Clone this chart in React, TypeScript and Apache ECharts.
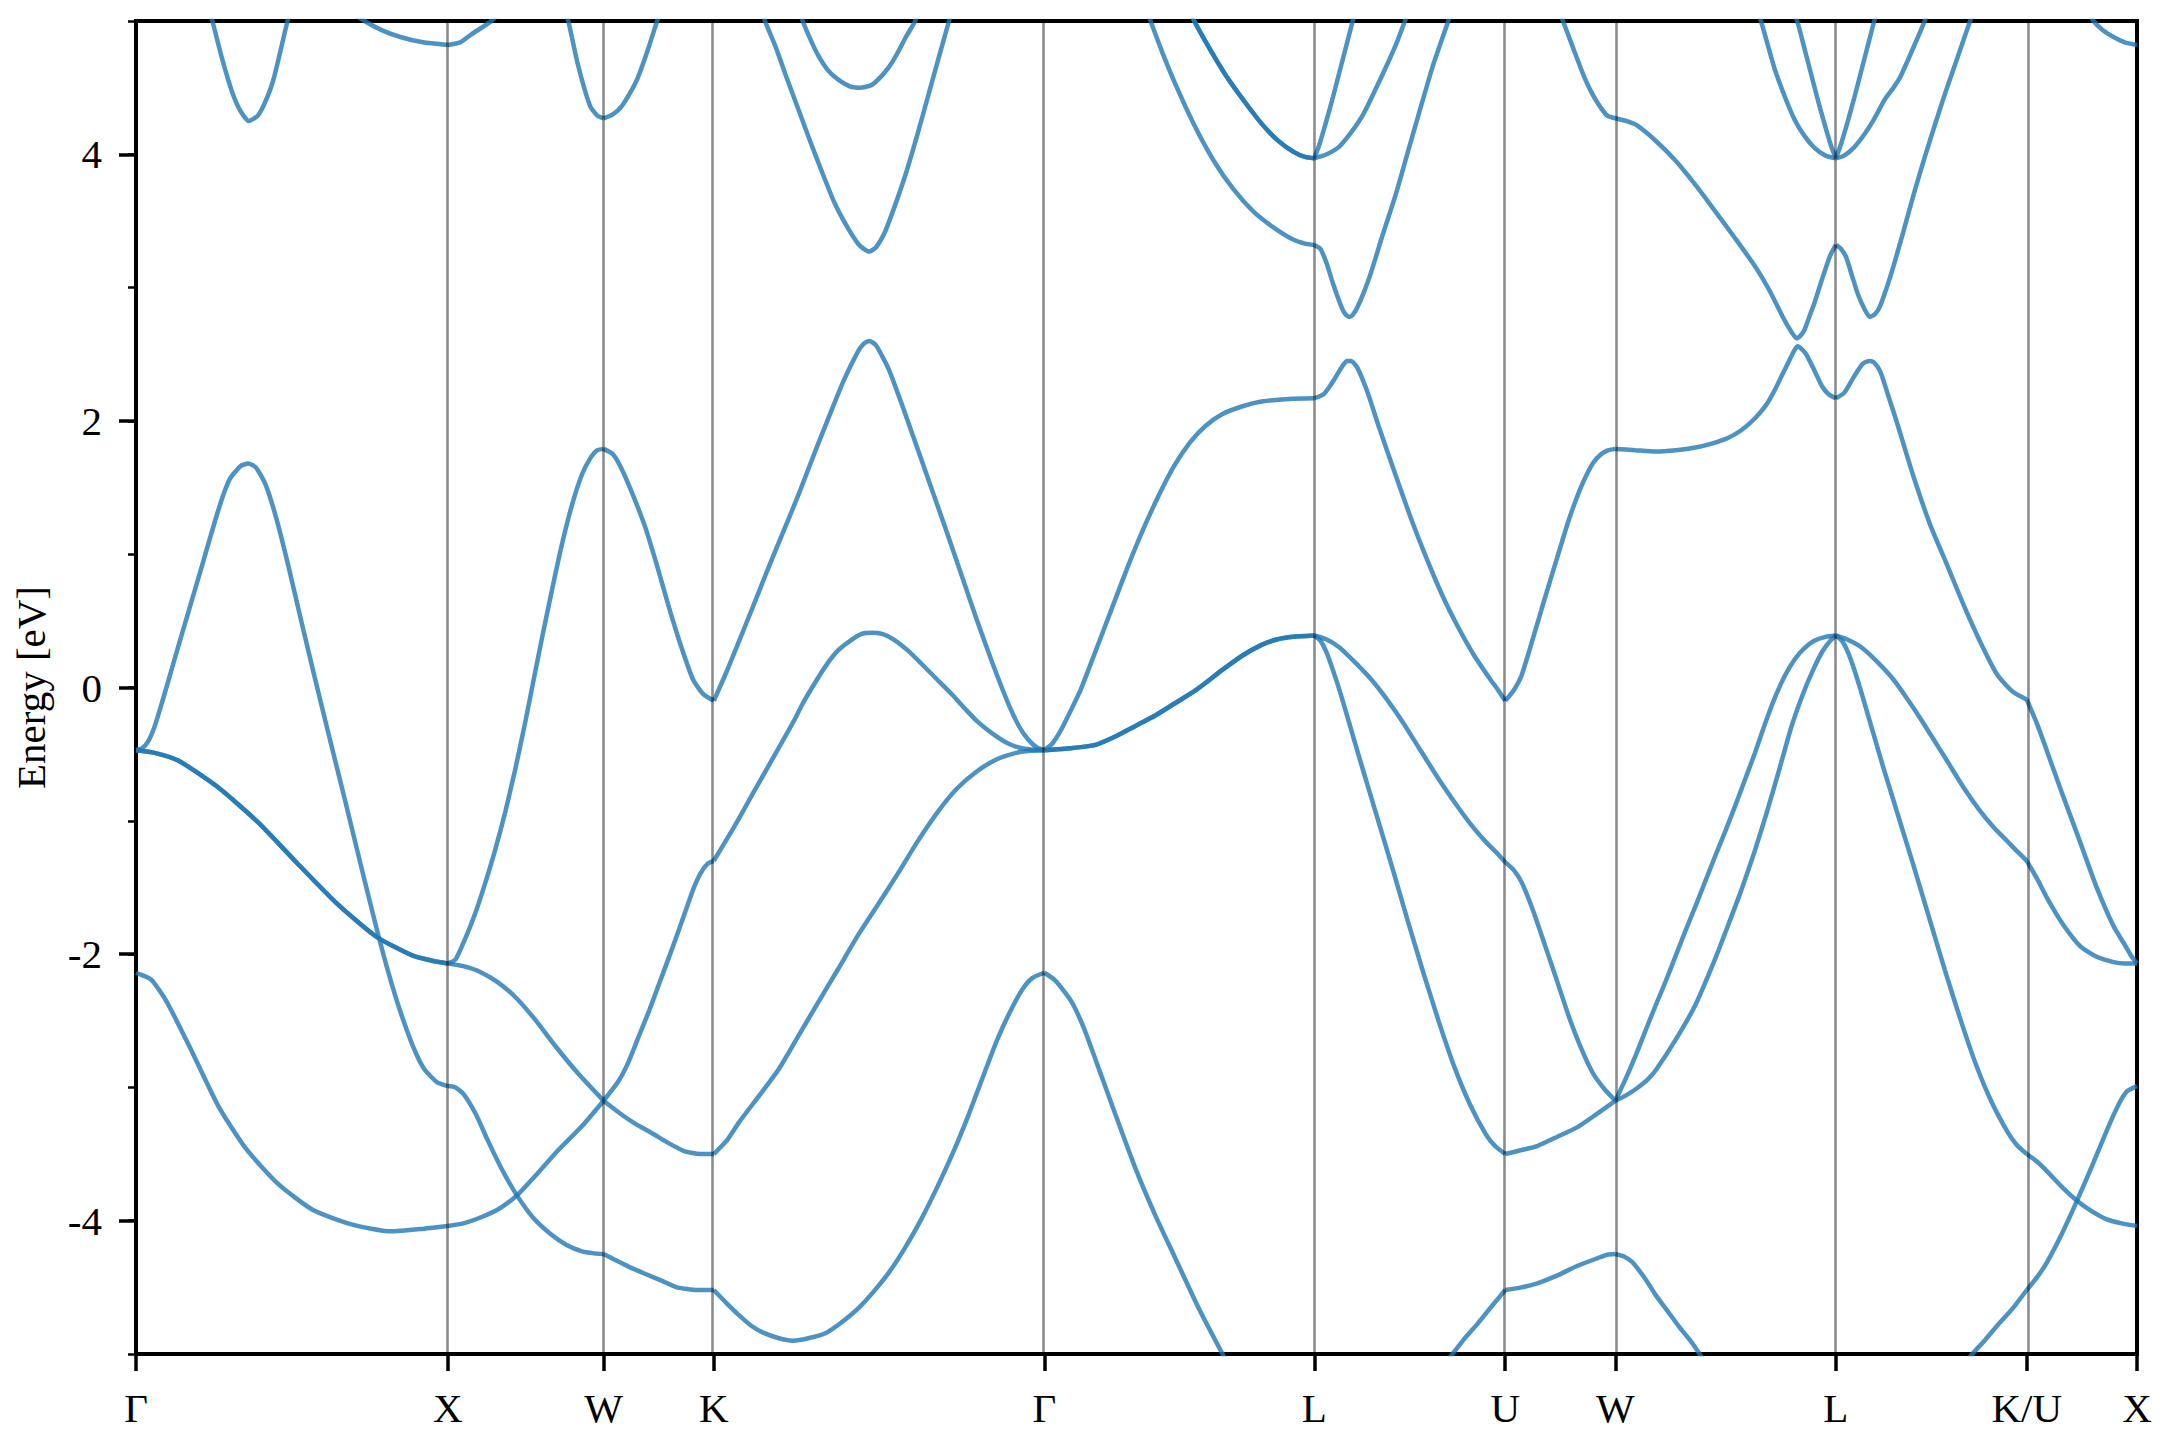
import React, { useEffect, useRef } from 'react';
import * as echarts from 'echarts';

// High-symmetry k positions (path length, units of 2π/a) and labels
const kTicks = [0, 1, 1.5, 1.8536, 2.9142, 3.7802, 4.3926, 4.7462, 5.4533, 6.0657, 6.4194];
const kLabels = ['Γ', 'X', 'W', 'K', 'Γ', 'L', 'U', 'W', 'L', 'K/U', 'X'];
const yMajor = [-4, -2, 0, 2, 4];

// Γ – X
const gx1 = [[0,-2.14],[0.048,-2.19],[0.099,-2.36],[0.175,-2.71],[0.264,-3.14],[0.353,-3.46],[0.454,-3.72],[0.568,-3.92],[0.695,-4.03],[0.816,-4.08],[0.924,-4.06],[1,-4.04]];
const gxDeg = [[0,-0.47],[0.06,-0.49],[0.137,-0.55],[0.264,-0.75],[0.391,-1.01],[0.518,-1.32],[0.644,-1.62],[0.771,-1.87],[0.886,-2.01],[0.95,-2.05],[1,-2.07]];
const gx3 = [[0,-0.47],[0.02,-0.455],[0.04,-0.4],[0.06,-0.29],[0.08,-0.14],[0.1,0.02],[0.137,0.32],[0.2,0.82],[0.264,1.33],[0.3,1.56],[0.335,1.66],[0.36,1.68],[0.385,1.65],[0.416,1.52],[0.45,1.27],[0.49,0.9],[0.53,0.5],[0.574,0.07],[0.62,-0.37],[0.67,-0.84],[0.72,-1.32],[0.771,-1.8],[0.81,-2.14],[0.848,-2.43],[0.89,-2.7],[0.924,-2.86],[0.965,-2.96],[1,-2.99]];
const gx4 = [[0.225,5.15],[0.245,5.0],[0.277,4.71],[0.308,4.47],[0.334,4.33],[0.362,4.25],[0.391,4.29],[0.416,4.4],[0.442,4.57],[0.486,5.0],[0.5,5.12]];
const gx5 = [[0.6,5.2],[0.733,5.0],[0.79,4.93],[0.848,4.88],[0.92,4.84],[1,4.82]];

// X – W
const xw1 = [[1,-4.04],[1.05,-4.02],[1.101,-3.98],[1.165,-3.91],[1.222,-3.81],[1.29,-3.64],[1.355,-3.47],[1.431,-3.29],[1.5,-3.1]];
const xw2 = [[1,-2.99],[1.025,-3.0],[1.051,-3.05],[1.09,-3.2],[1.127,-3.39],[1.175,-3.62],[1.222,-3.81],[1.275,-3.98],[1.33,-4.1],[1.38,-4.18],[1.431,-4.23],[1.47,-4.245],[1.5,-4.25]];
const xw3 = [[1,-2.07],[1.05,-2.09],[1.101,-2.13],[1.16,-2.21],[1.216,-2.32],[1.28,-2.49],[1.342,-2.68],[1.42,-2.9],[1.5,-3.1]];
const xw4 = [[1,-2.07],[1.025,-2.04],[1.057,-1.88],[1.089,-1.69],[1.12,-1.47],[1.152,-1.22],[1.185,-0.93],[1.216,-0.62],[1.247,-0.28],[1.275,0.05],[1.305,0.4],[1.337,0.76],[1.368,1.09],[1.4,1.38],[1.431,1.6],[1.46,1.73],[1.48,1.78],[1.5,1.79]];
const xw5 = [[1,4.82],[1.04,4.84],[1.076,4.9],[1.14,5.0],[1.2,5.15]];
const xw6 = [[1.37,5.15],[1.387,5.0],[1.418,4.67],[1.457,4.36],[1.48,4.29],[1.5,4.27]];

// W – K
const wk1 = [[1.5,1.79],[1.53,1.75],[1.558,1.64],[1.595,1.44],[1.634,1.2],[1.672,0.91],[1.71,0.6],[1.75,0.3],[1.787,0.06],[1.82,-0.05],[1.8536,-0.1]];
const wk2 = [[1.5,-3.1],[1.55,-3.19],[1.6,-3.27],[1.66,-3.35],[1.71,-3.42],[1.761,-3.48],[1.81,-3.5],[1.8536,-3.5]];
const wk3 = [[1.5,-3.1],[1.546,-2.96],[1.578,-2.82],[1.609,-2.64],[1.647,-2.42],[1.685,-2.18],[1.723,-1.94],[1.761,-1.69],[1.79,-1.5],[1.812,-1.39],[1.835,-1.32],[1.8536,-1.3]];
const wk4 = [[1.5,-4.25],[1.533,-4.29],[1.585,-4.35],[1.635,-4.4],[1.686,-4.45],[1.736,-4.5],[1.8,-4.52],[1.8536,-4.52]];
const wk5 = [[1.5,4.27],[1.53,4.3],[1.558,4.36],[1.585,4.46],[1.609,4.57],[1.64,4.77],[1.672,5.0],[1.69,5.12]];

// K – Γ
const kg1 = [[1.8536,-0.1],[1.895,0.12],[1.935,0.35],[1.98,0.61],[2.024,0.87],[2.075,1.16],[2.126,1.45],[2.177,1.76],[2.228,2.06],[2.27,2.3],[2.316,2.52],[2.335,2.58],[2.352,2.6],[2.373,2.57],[2.395,2.48],[2.418,2.37],[2.456,2.13],[2.494,1.88],[2.545,1.54],[2.596,1.2],[2.646,0.86],[2.697,0.51],[2.748,0.18],[2.8,-0.13],[2.835,-0.3],[2.862,-0.39],[2.89,-0.45],[2.9142,-0.47]];
const kg2 = [[1.8536,-1.3],[1.895,-1.14],[1.935,-0.98],[1.98,-0.79],[2.024,-0.61],[2.07,-0.42],[2.113,-0.24],[2.139,-0.12],[2.177,0.03],[2.215,0.17],[2.253,0.28],[2.291,0.35],[2.326,0.4],[2.361,0.41],[2.396,0.4],[2.431,0.36],[2.475,0.28],[2.519,0.18],[2.57,0.06],[2.621,-0.06],[2.66,-0.16],[2.697,-0.25],[2.75,-0.35],[2.798,-0.42],[2.85,-0.46],[2.9142,-0.47]];
const kg3 = [[1.8536,-3.5],[1.895,-3.4],[1.935,-3.26],[2.0,-3.06],[2.063,-2.86],[2.126,-2.61],[2.189,-2.36],[2.253,-2.11],[2.316,-1.86],[2.38,-1.63],[2.443,-1.4],[2.506,-1.16],[2.57,-0.94],[2.633,-0.76],[2.697,-0.63],[2.76,-0.54],[2.824,-0.49],[2.87,-0.475],[2.9142,-0.47]];
const kg4 = [[1.8536,-4.52],[1.895,-4.62],[1.935,-4.71],[1.975,-4.79],[2.012,-4.84],[2.06,-4.88],[2.107,-4.9],[2.16,-4.88],[2.215,-4.84],[2.265,-4.76],[2.316,-4.66],[2.367,-4.53],[2.418,-4.38],[2.468,-4.2],[2.519,-3.99],[2.57,-3.75],[2.621,-3.49],[2.672,-3.2],[2.722,-2.89],[2.765,-2.63],[2.811,-2.4],[2.845,-2.26],[2.875,-2.18],[2.9142,-2.14]];
const kg5 = [[2.0,5.15],[2.018,5.0],[2.053,4.8],[2.088,4.57],[2.126,4.33],[2.164,4.09],[2.202,3.86],[2.24,3.64],[2.278,3.47],[2.316,3.33],[2.335,3.29],[2.352,3.27],[2.373,3.3],[2.39,3.36],[2.405,3.43],[2.437,3.63],[2.469,3.85],[2.507,4.15],[2.545,4.47],[2.577,4.74],[2.608,5.0],[2.62,5.12]];
const kg6 = [[2.125,5.1],[2.139,5.0],[2.164,4.86],[2.189,4.74],[2.22,4.63],[2.253,4.56],[2.29,4.51],[2.323,4.5],[2.36,4.52],[2.393,4.59],[2.42,4.67],[2.443,4.76],[2.47,4.88],[2.5,5.0],[2.51,5.06]];

// Γ – L
const gl1 = [[2.9142,-0.47],[2.94,-0.42],[2.965,-0.33],[2.989,-0.22],[3.03,-0.02],[3.078,0.27],[3.13,0.59],[3.179,0.89],[3.23,1.18],[3.281,1.44],[3.33,1.66],[3.382,1.84],[3.43,1.96],[3.484,2.05],[3.55,2.11],[3.611,2.145],[3.7,2.165],[3.7802,2.17]];
const glDeg = [[2.9142,-0.47],[2.98,-0.46],[3.078,-0.43],[3.14,-0.37],[3.205,-0.29],[3.27,-0.21],[3.332,-0.12],[3.4,-0.02],[3.484,0.13],[3.55,0.24],[3.611,0.32],[3.66,0.36],[3.712,0.38],[3.7802,0.39]];
const gl3 = [[2.9142,-2.14],[2.95,-2.2],[3.002,-2.36],[3.04,-2.55],[3.078,-2.79],[3.14,-3.19],[3.205,-3.6],[3.27,-3.96],[3.332,-4.27],[3.41,-4.66],[3.49,-5.02],[3.55,-5.3]];
const gl4 = [[3.24,5.1],[3.255,5.0],[3.29,4.78],[3.332,4.54],[3.395,4.22],[3.458,3.95],[3.52,3.74],[3.585,3.57],[3.65,3.45],[3.712,3.36],[3.75,3.33],[3.7802,3.32]];
const glDegTop = [[3.38,5.1],[3.395,5.0],[3.45,4.77],[3.497,4.59],[3.555,4.4],[3.611,4.23],[3.66,4.11],[3.712,4.02],[3.75,3.98],[3.7802,3.97]];

// L – U
const lu1 = [[3.7802,3.97],[3.79,4.03],[3.8,4.1],[3.82,4.26],[3.84,4.43],[3.86,4.61],[3.88,4.79],[3.9,4.97],[3.915,5.1]];
const lu2 = [[3.7802,3.97],[3.82,4.0],[3.861,4.06],[3.9,4.17],[3.937,4.3],[3.975,4.48],[4.013,4.67],[4.045,4.84],[4.071,5.0],[4.09,5.1]];
const lu3 = [[3.7802,3.32],[3.8,3.29],[3.82,3.18],[3.836,3.06],[3.852,2.95],[3.868,2.85],[3.88,2.8],[3.893,2.78],[3.905,2.8],[3.918,2.85],[3.94,2.97],[3.963,3.12],[4.0,3.4],[4.039,3.68],[4.077,3.99],[4.115,4.3],[4.16,4.66],[4.21,5.0],[4.23,5.15]];
const lu4 = [[3.7802,2.17],[3.81,2.2],[3.83,2.26],[3.849,2.33],[3.87,2.41],[3.885,2.45],[3.898,2.45],[3.918,2.4],[3.95,2.22],[3.988,1.95],[4.04,1.6],[4.09,1.27],[4.14,0.97],[4.191,0.69],[4.24,0.46],[4.293,0.24],[4.345,0.06],[4.37,-0.02],[4.3926,-0.1]];
const lu5 = [[3.7802,0.39],[3.82,0.36],[3.861,0.3],[3.91,0.19],[3.963,0.06],[4.01,-0.08],[4.064,-0.26],[4.115,-0.45],[4.18,-0.69],[4.242,-0.9],[4.29,-1.05],[4.331,-1.16],[4.365,-1.24],[4.3926,-1.31]];
const lu6 = [[3.7802,0.39],[3.8,0.35],[3.82,0.26],[3.84,0.13],[3.861,-0.02],[3.88,-0.17],[3.905,-0.37],[3.93,-0.57],[3.98,-0.96],[4.03,-1.35],[4.08,-1.75],[4.13,-2.14],[4.18,-2.51],[4.23,-2.85],[4.28,-3.13],[4.33,-3.35],[4.36,-3.44],[4.3926,-3.5]];
const lu7 = [[4.18,-5.12],[4.217,-5.02],[4.26,-4.89],[4.305,-4.77],[4.35,-4.64],[4.3926,-4.52]];

// U – W
const uw1 = [[4.3926,-0.1],[4.42,-0.02],[4.445,0.09],[4.483,0.38],[4.521,0.68],[4.56,0.98],[4.597,1.26],[4.635,1.5],[4.673,1.68],[4.7,1.75],[4.724,1.78],[4.7462,1.79]];
const uw2 = [[4.3926,-1.31],[4.42,-1.37],[4.445,-1.46],[4.483,-1.68],[4.521,-1.94],[4.56,-2.21],[4.597,-2.47],[4.635,-2.7],[4.673,-2.89],[4.71,-3.01],[4.7462,-3.1]];
const uw3 = [[4.3926,-3.5],[4.445,-3.47],[4.495,-3.44],[4.56,-3.37],[4.623,-3.3],[4.68,-3.21],[4.7462,-3.1]];
const uw4 = [[4.3926,-4.52],[4.445,-4.5],[4.495,-4.47],[4.56,-4.41],[4.623,-4.34],[4.69,-4.28],[4.72,-4.255],[4.7462,-4.25]];
const uw5 = [[4.56,5.12],[4.578,5.0],[4.61,4.8],[4.648,4.57],[4.675,4.44],[4.699,4.35],[4.72,4.29],[4.7462,4.27]];

// W – L
const wl1 = [[4.7462,4.27],[4.78,4.25],[4.813,4.22],[4.876,4.1],[4.94,3.95],[5.003,3.77],[5.067,3.57],[5.13,3.37],[5.194,3.16],[5.24,2.98],[5.283,2.78],[5.31,2.67],[5.327,2.62],[5.34,2.64],[5.352,2.68],[5.368,2.78],[5.384,2.88],[5.41,3.07],[5.435,3.24],[5.4533,3.32]];
const wl2 = [[4.7462,1.79],[4.81,1.78],[4.876,1.77],[4.94,1.78],[5.003,1.8],[5.055,1.83],[5.105,1.87],[5.15,1.93],[5.194,2.02],[5.23,2.12],[5.257,2.23],[5.28,2.34],[5.301,2.44],[5.318,2.52],[5.33,2.56],[5.343,2.54],[5.358,2.5],[5.38,2.4],[5.409,2.26],[5.43,2.2],[5.4533,2.17]];
const wl3 = [[4.7462,-3.1],[4.78,-2.93],[4.813,-2.75],[4.845,-2.56],[4.876,-2.38],[4.908,-2.2],[4.94,-2.01],[4.97,-1.83],[5.003,-1.64],[5.035,-1.45],[5.067,-1.26],[5.1,-1.07],[5.13,-0.89],[5.162,-0.69],[5.194,-0.49],[5.225,-0.28],[5.257,-0.08],[5.29,0.09],[5.321,0.21],[5.35,0.29],[5.384,0.35],[5.42,0.38],[5.4533,0.39]];
const wl4 = [[4.7462,-3.1],[4.78,-3.06],[4.813,-3.01],[4.85,-2.94],[4.876,-2.87],[4.94,-2.64],[5.003,-2.38],[5.067,-2.03],[5.105,-1.8],[5.15,-1.52],[5.194,-1.22],[5.23,-0.95],[5.27,-0.63],[5.31,-0.3],[5.346,-0.06],[5.38,0.13],[5.41,0.27],[5.435,0.35],[5.4533,0.39]];
const wl5 = [[4.7462,-4.25],[4.775,-4.27],[4.8,-4.31],[4.84,-4.43],[4.876,-4.56],[4.914,-4.68],[4.952,-4.8],[4.99,-4.91],[5.022,-5.02],[5.05,-5.12]];
const wl6 = [[5.2,5.08],[5.213,5.0],[5.235,4.82],[5.257,4.64],[5.29,4.43],[5.321,4.26],[5.352,4.14],[5.384,4.05],[5.42,3.99],[5.4533,3.97]];
const wl7 = [[5.315,5.1],[5.333,4.97],[5.353,4.79],[5.373,4.61],[5.393,4.43],[5.413,4.26],[5.433,4.1],[5.443,4.03],[5.4533,3.97]];

// L – K/U
const lk1 = [[5.4533,3.97],[5.463,4.03],[5.473,4.1],[5.493,4.26],[5.513,4.43],[5.533,4.61],[5.553,4.79],[5.573,4.97],[5.588,5.1]];
const lk2 = [[5.4533,3.97],[5.48,3.99],[5.511,4.05],[5.545,4.15],[5.575,4.26],[5.61,4.41],[5.638,4.5],[5.66,4.58],[5.7,4.79],[5.735,4.98],[5.75,5.08]];
const lk3 = [[5.4533,3.32],[5.47,3.29],[5.486,3.23],[5.505,3.09],[5.524,2.95],[5.545,2.84],[5.562,2.78],[5.578,2.8],[5.593,2.85],[5.615,2.99],[5.638,3.16],[5.67,3.42],[5.703,3.7],[5.74,3.99],[5.775,4.25],[5.81,4.5],[5.85,4.77],[5.884,5.0],[5.9,5.1]];
const lk4 = [[5.4533,2.17],[5.48,2.21],[5.511,2.33],[5.54,2.43],[5.562,2.45],[5.575,2.44],[5.596,2.37],[5.62,2.2],[5.649,1.99],[5.7,1.6],[5.756,1.22],[5.81,0.92],[5.863,0.62],[5.917,0.34],[5.97,0.1],[6.02,-0.03],[6.0657,-0.09]];
const lk5 = [[5.4533,0.39],[5.49,0.36],[5.536,0.3],[5.587,0.19],[5.638,0.06],[5.681,-0.08],[5.724,-0.23],[5.767,-0.39],[5.81,-0.55],[5.863,-0.75],[5.917,-0.93],[5.96,-1.05],[6.002,-1.15],[6.035,-1.23],[6.0657,-1.3]];
const lk6 = [[5.4533,0.39],[5.473,0.35],[5.493,0.26],[5.513,0.13],[5.533,-0.02],[5.553,-0.18],[5.578,-0.38],[5.603,-0.58],[5.653,-0.96],[5.703,-1.34],[5.753,-1.73],[5.803,-2.12],[5.853,-2.49],[5.903,-2.83],[5.953,-3.11],[6.003,-3.33],[6.033,-3.43],[6.0657,-3.5]];
const lk7 = [[5.86,-5.12],[5.884,-5.02],[5.93,-4.9],[5.97,-4.79],[6.02,-4.66],[6.0657,-4.52]];

// U – X
const ux1 = [[6.0657,-0.09],[6.1,-0.28],[6.131,-0.48],[6.18,-0.8],[6.237,-1.16],[6.29,-1.5],[6.344,-1.79],[6.38,-1.93],[6.4,-2.01],[6.4194,-2.07]];
const ux2 = [[6.0657,-1.3],[6.1,-1.44],[6.131,-1.58],[6.18,-1.77],[6.237,-1.94],[6.29,-2.02],[6.344,-2.06],[6.38,-2.07],[6.4194,-2.07]];
const ux3 = [[6.0657,-3.5],[6.1,-3.56],[6.131,-3.63],[6.18,-3.75],[6.227,-3.85],[6.275,-3.93],[6.323,-3.99],[6.37,-4.02],[6.4194,-4.04]];
const ux4 = [[6.0657,-4.52],[6.1,-4.42],[6.131,-4.31],[6.18,-4.09],[6.227,-3.85],[6.275,-3.59],[6.323,-3.32],[6.36,-3.13],[6.387,-3.03],[6.4194,-2.99]];
const ux5 = [[6.26,5.08],[6.28,5.0],[6.31,4.93],[6.344,4.88],[6.38,4.84],[6.4194,4.82]];

// degenerate curves appear twice (drawn on top of each other)
const bands = [
  gx1, gxDeg, gxDeg, gx3, gx4, gx5,
  xw1, xw2, xw3, xw4, xw5, xw6,
  wk1, wk2, wk3, wk4, wk5,
  kg1, kg2, kg3, kg4, kg5, kg6,
  gl1, glDeg, glDeg, gl3, gl4, glDegTop, glDegTop,
  lu1, lu2, lu3, lu4, lu5, lu6, lu7,
  uw1, uw2, uw3, uw4, uw5,
  wl1, wl2, wl3, wl4, wl5, wl6, wl7,
  lk1, lk2, lk3, lk4, lk5, lk6, lk7,
  ux1, ux2, ux3, ux4, ux5,
];

const FONT = "'Liberation Serif', serif";

export default function App() {
  const ref = useRef<HTMLDivElement>(null);
  useEffect(() => {
    const chart = echarts.init(ref.current as HTMLDivElement, null, { renderer: 'svg' });
    const bandStyle = { color: '#1f77b4', opacity: 0.8, width: 4.5 };
    const series: any[] = [
      {
        type: 'line',
        data: [[0, -20]],
        showSymbol: false,
        symbol: 'none',
        lineStyle: { width: 0 },
        silent: true,
        z: 1,
        markLine: {
          silent: true,
          symbol: ['none', 'none'],
          label: { show: false },
          lineStyle: { color: '#000', opacity: 0.45, width: 2.6, type: 'solid' },
          data: kTicks.slice(1, -1).map((k) => ({ xAxis: k })),
        },
      },
      ...bands.map((b) => ({
        type: 'line',
        data: b,
        showSymbol: false,
        symbol: 'none',
        smooth: 0.2,
        clip: true,
        silent: true,
        z: 3,
        lineStyle: bandStyle,
      })),
    ];
    chart.setOption({
      animation: false,
      backgroundColor: '#ffffff',
      grid: {
        left: 136, right: 23, top: 21, bottom: 86,
        show: true, borderColor: '#000', borderWidth: 4, backgroundColor: 'transparent',
        containLabel: false, outerBoundsMode: 'none',
      },
      xAxis: {
        type: 'value', min: 0, max: kTicks[kTicks.length - 1],
        axisLine: { show: true, onZero: false, lineStyle: { color: '#000', width: 4 } },
        axisTick: { show: true, customValues: kTicks, length: 17, lineStyle: { color: '#000', width: 3.5 } },
        axisLabel: {
          customValues: kTicks,
          formatter: (v: number) => {
            const i = kTicks.findIndex((k) => Math.abs(k - v) < 1e-6);
            return i >= 0 ? kLabels[i] : '';
          },
          color: '#000', fontFamily: FONT, fontSize: 41, margin: 33,
        },
        splitLine: { show: false },
      },
      yAxis: [
        {
          type: 'value', min: -5, max: 5, interval: 1,
          axisLine: { show: true, onZero: false, lineStyle: { color: '#000', width: 4 } },
          axisTick: { show: true, length: 8, lineStyle: { color: '#000', width: 2.5 } },
          axisLabel: {
            customValues: yMajor,
            formatter: (v: number) => (Math.abs(v) % 2 === 0 ? String(v) : ''),
            color: '#000', fontFamily: FONT, fontSize: 41, margin: 34,
          },
          splitLine: { show: false },
          name: 'Energy [eV]', nameLocation: 'middle', nameGap: 85,
          nameTextStyle: { color: '#000', fontFamily: FONT, fontSize: 41 },
        },
        {
          type: 'value', min: -5, max: 5, position: 'left',
          axisLine: { show: false, onZero: false },
          axisTick: { show: true, customValues: yMajor, length: 17, lineStyle: { color: '#000', width: 3.5 } },
          axisLabel: { show: false },
          splitLine: { show: false },
        },
      ],
      series,
    });
    return () => chart.dispose();
  }, []);
  return (
    <div
      ref={ref}
      style={{ position: 'fixed', left: 0, top: 0, width: '2160px', height: '1440px', background: '#fff' }}
    />
  );
}
